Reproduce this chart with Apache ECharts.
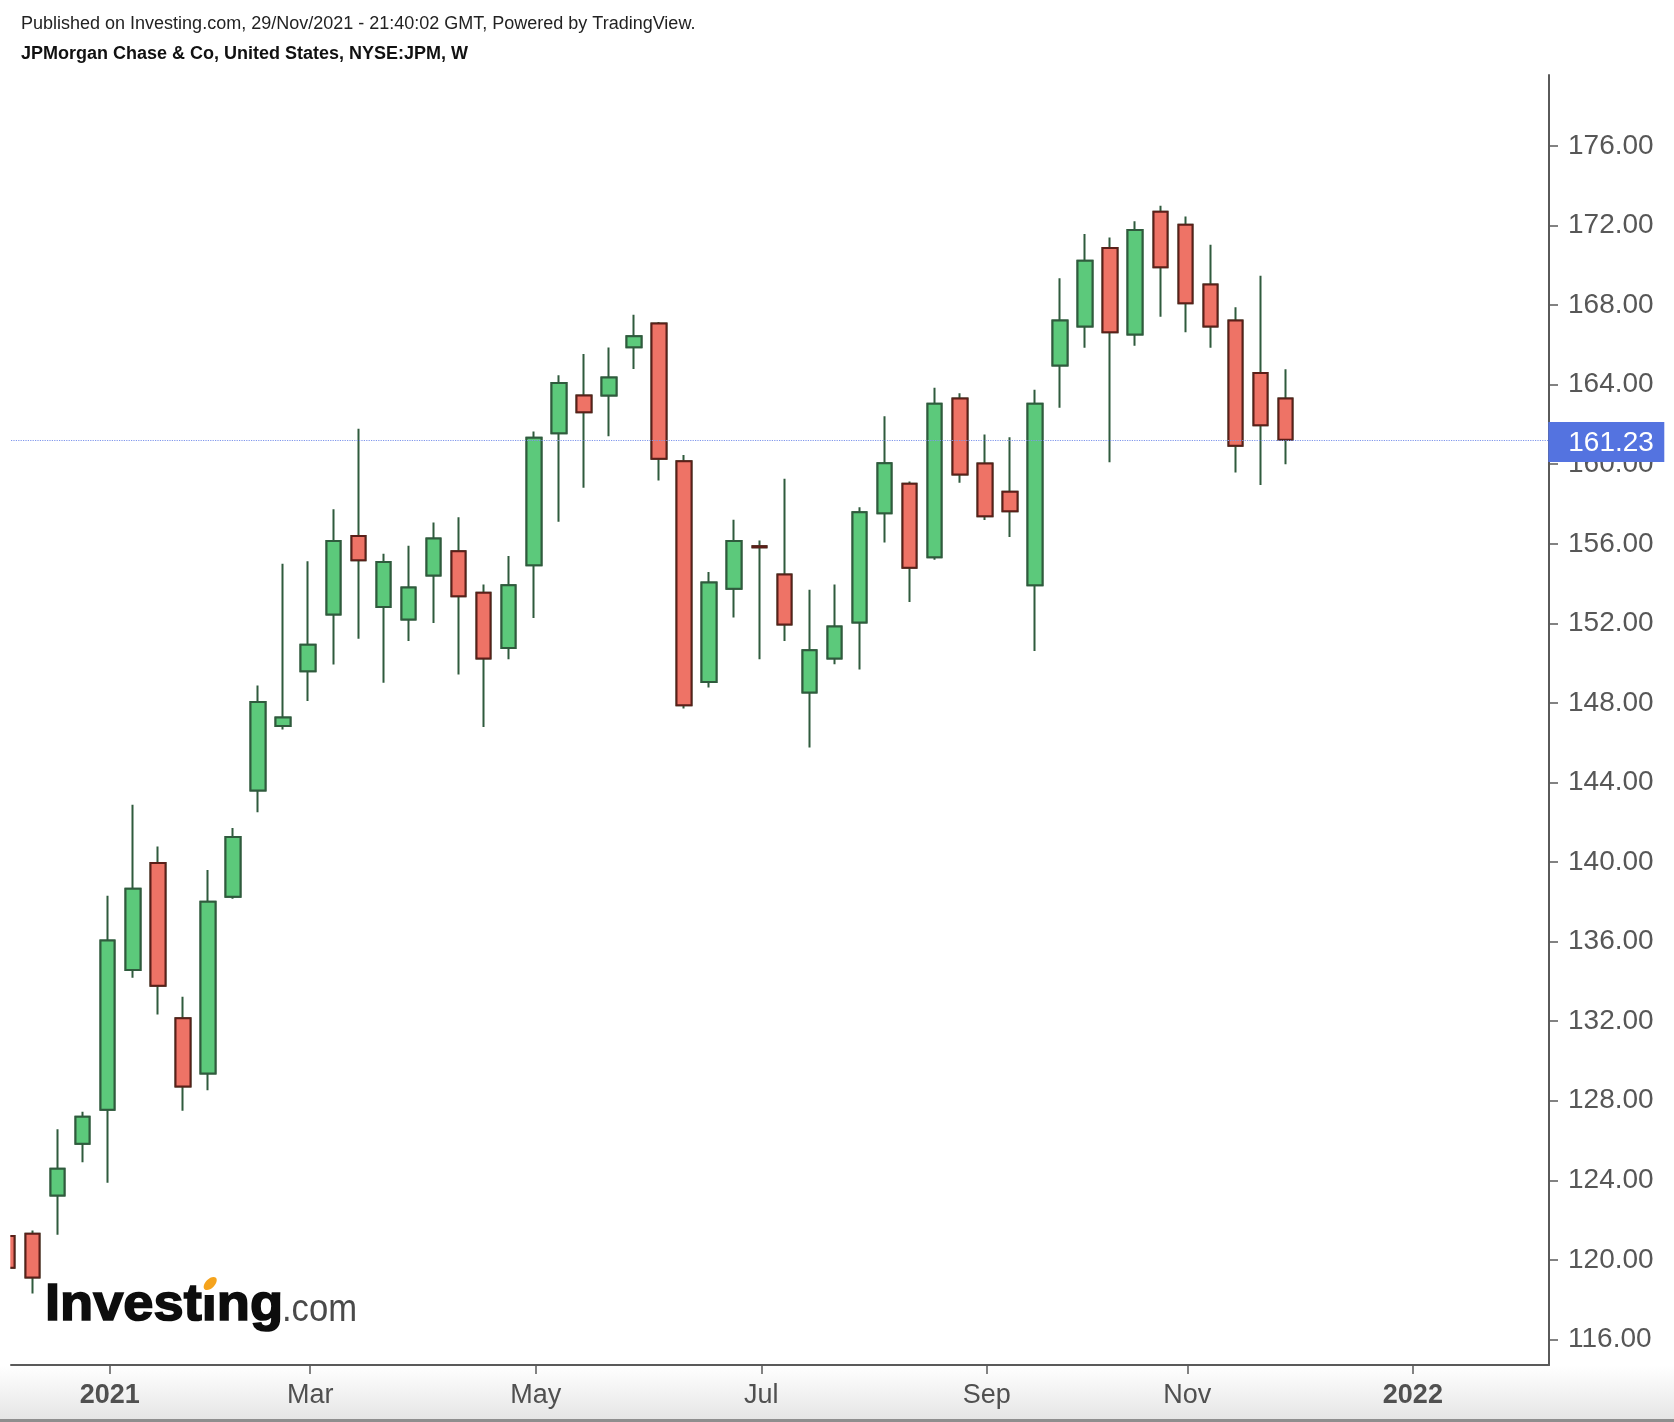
<!DOCTYPE html>
<html><head><meta charset="utf-8">
<script src="https://cdn.jsdelivr.net/npm/echarts@6/dist/echarts.min.js"></script>
<style>html,body{margin:0;padding:0;background:#fff}#c{width:1674px;height:1422px}</style>
</head><body><div id="c"></div>
<script>
// ---- data (weekly bars, JPM) ----
const weeks = ['2020-12-07','2020-12-14','2020-12-21','2020-12-28',
'2021-01-04','2021-01-11','2021-01-18','2021-01-25',
'2021-02-01','2021-02-08','2021-02-15','2021-02-22',
'2021-03-01','2021-03-08','2021-03-15','2021-03-22','2021-03-29',
'2021-04-05','2021-04-12','2021-04-19','2021-04-26',
'2021-05-03','2021-05-10','2021-05-17','2021-05-24','2021-05-31',
'2021-06-07','2021-06-14','2021-06-21','2021-06-28',
'2021-07-05','2021-07-12','2021-07-19','2021-07-26',
'2021-08-02','2021-08-09','2021-08-16','2021-08-23','2021-08-30',
'2021-09-06','2021-09-13','2021-09-20','2021-09-27',
'2021-10-04','2021-10-11','2021-10-18','2021-10-25',
'2021-11-01','2021-11-08','2021-11-15','2021-11-22','2021-11-29'];
const openP  = [121.2,121.31,123.24,125.84,127.54,134.57,139.95,132.15,129.37,138.25,143.6,146.84,149.59,152.44,156.39,152.82,152.19,154.41,155.62,153.54,150.76,154.92,161.56,163.45,163.45,165.88,167.08,160.15,149.05,153.74,155.88,154.45,148.52,150.23,152.04,157.54,159.02,155.32,163.3,160.04,158.62,153.91,164.96,166.92,170.87,166.52,172.69,172.04,169.03,167.22,164.59,163.3];
const closeP = [119.6,119.11,124.58,127.19,136.06,138.66,133.78,128.71,138.0,141.26,148.05,147.27,150.93,156.14,155.17,155.08,153.8,156.26,153.36,150.23,153.91,161.33,164.09,162.61,164.36,166.43,160.27,147.88,154.05,156.14,155.82,151.94,150.65,151.84,157.58,160.05,154.8,163.04,159.49,157.39,157.64,163.04,167.22,170.23,166.63,171.78,169.9,168.09,166.92,160.93,161.96,161.23];
const lowP   = [119.3,118.31,121.26,124.91,123.87,134.18,132.33,127.49,128.53,138.15,142.5,146.66,148.1,149.93,151.23,149.02,151.11,152.02,149.43,146.79,150.19,152.27,157.11,158.82,161.41,164.79,159.18,147.72,148.77,152.29,150.19,151.11,145.76,149.94,149.68,156.06,153.07,155.2,159.07,157.2,156.34,150.61,162.84,165.85,160.1,165.96,167.42,166.63,165.85,159.59,158.95,160.0];
const highP  = [121.5,121.47,126.56,127.45,138.31,142.88,140.78,133.23,139.6,141.71,148.87,155.0,155.12,157.74,161.78,155.5,155.9,157.07,157.34,153.95,155.38,161.65,164.47,165.54,165.87,167.51,167.15,160.47,154.58,157.21,156.17,159.27,153.69,153.95,157.84,162.41,159.13,163.84,163.57,161.49,161.36,163.74,169.35,171.57,171.4,172.21,173.0,172.46,171.04,167.89,169.47,164.78];
const yTicks = [116,120,124,128,132,136,140,144,148,152,156,160,164,168,172,176];
const xTickWeekIdx = [4,12,21,30,39,47,56];           // weeks from 2020-12-07
const xTickLabels  = ['2021','Mar','May','Jul','Sep','Nov','2022'];
const xTickBold    = [true,false,false,false,false,false,true];
const lastPrice = closeP[closeP.length - 1];
const titleLine1 = 'Published on Investing.com, 29/Nov/2021 - 21:40:02 GMT, Powered by TradingView.';
const titleLine2 = 'JPMorgan Chase & Co, United States, NYSE:JPM, W';

// ---- styling ----
const FONT = '"Liberation Sans", Arial, sans-serif';
const UP = '#5cc97b', DOWN = '#ee7366', UPB = '#2f5b3d', DOWNB = '#5b1f19';
const TICK_OFF = 0.08;

const fullRows = weeks.map((d, i) => [i, openP[i], closeP[i], lowP[i], highP[i]]);
const bodyRows = weeks.map((d, i) => [i, openP[i], closeP[i], Math.min(openP[i], closeP[i]), Math.max(openP[i], closeP[i])]);
const xTickVals = xTickWeekIdx.map(v => v + TICK_OFF);

// logo measurement
const mctx = document.createElement('canvas').getContext('2d');
mctx.font = 'bold 52px "Liberation Sans"';
const wInv = mctx.measureText('Investing').width;
const wInvest = mctx.measureText('Invest').width;
const wi = mctx.measureText('i').width;
const sxInv = 238 / wInv;
mctx.font = '38px "Liberation Sans"';
const wCom = mctx.measureText('.com').width;
const sxCom = 75 / wCom;
const iCx = 45 + sxInv * (wInvest + wi / 2);
const LOGO_BASE = 1323.5;

const chart = echarts.init(document.getElementById('c'), null, {renderer: 'canvas'});
const baseGraphics = [
  {type: 'rect', silent: true, z: -10, shape: {x: 0, y: 1366, width: 1674, height: 56},
    style: {fill: new echarts.graphic.LinearGradient(0, 0, 0, 1, [{offset: 0, color: '#ffffff'}, {offset: 1, color: '#e4e4e4'}])}},
  {type: 'rect', silent: true, z: -9, shape: {x: 0, y: 1419, width: 1674, height: 3}, style: {fill: '#8e8e8e'}},
  {type: 'rect', silent: true, z: 100, shape: {x: 0, y: 70, width: 10.3, height: 1294}, style: {fill: '#ffffff'}},
  {type: 'text', silent: true, z: 100, x: 21, y: 24,
    style: {text: titleLine1, font: '18px ' + FONT, fill: '#222222', verticalAlign: 'middle'}},
  {type: 'text', silent: true, z: 100, x: 21, y: 54,
    style: {text: titleLine2, font: 'bold 18px ' + FONT, fill: '#111111', verticalAlign: 'middle'}},
  {type: 'text', silent: true, z: 100, x: 45, y: LOGO_BASE - 18, scaleX: sxInv,
    style: {text: 'Investing', font: 'bold 52px "Liberation Sans"', fill: '#0d0d0d',
      stroke: '#0d0d0d', lineWidth: 1.6, verticalAlign: 'middle'}},
  {type: 'text', silent: true, z: 100, x: 282, y: LOGO_BASE - 13.2, scaleX: sxCom,
    style: {text: '.com', font: '38px "Liberation Sans"', fill: '#4a4a4a', verticalAlign: 'middle'}},
  {type: 'rect', silent: true, z: 101, shape: {x: iCx - 6.5, y: LOGO_BASE - 43, width: 13, height: 14.5}, style: {fill: '#ffffff'}},
  {type: 'ellipse', silent: true, z: 102, x: iCx + 1, y: LOGO_BASE - 40, rotation: Math.PI / 4,
    shape: {cx: 0, cy: 0, rx: 8, ry: 4.6}, style: {fill: '#f5a31c'}}
];

chart.setOption({
  animation: false,
  backgroundColor: '#ffffff',
  grid: {left: 11, right: 125, top: 75, bottom: 57, containLabel: false},
  xAxis: {
    type: 'value', min: 0.1397, max: 61.512, position: 'bottom',
    splitLine: {show: false},
    axisLine: {show: true, onZero: false, lineStyle: {color: '#5a5a5a', width: 2}},
    axisTick: {show: true, customValues: xTickVals, length: 9, lineStyle: {color: '#5a5a5a', width: 1.5}},
    axisLabel: {
      customValues: xTickVals, margin: 17,
      formatter: v => {
        const k = xTickVals.findIndex(t => Math.abs(t - v) < 0.01);
        if (k < 0) return '';
        return (xTickBold[k] ? '{b|' : '{n|') + xTickLabels[k] + '}';
      },
      rich: {
        b: {fontFamily: FONT, fontSize: 27, fontWeight: 'bold', color: '#505050'},
        n: {fontFamily: FONT, fontSize: 27, color: '#505050'}
      }
    }
  },
  yAxis: {
    type: 'value', min: 114.713, max: 179.569, position: 'right',
    splitLine: {show: false},
    axisLine: {show: true, onZero: false, lineStyle: {color: '#5a5a5a', width: 2}},
    axisTick: {show: true, customValues: yTicks, length: 9, lineStyle: {color: '#5a5a5a', width: 1.5}},
    axisLabel: {customValues: yTicks, margin: 19, formatter: v => v.toFixed(2),
      fontFamily: FONT, fontSize: 28, color: '#575757', padding: [4, 0, 0, 0]}
  },
  series: [
    {
      name: 'wicks', type: 'candlestick', data: fullRows,
      encode: {x: 0, y: [1, 2, 3, 4]},
      barWidth: 15, silent: true,
      itemStyle: {color: UP, color0: DOWN, borderColor: UPB, borderColor0: UPB, borderWidth: 2}
    },
    {
      name: 'bodies', type: 'candlestick', data: bodyRows,
      encode: {x: 0, y: [1, 2, 3, 4]},
      barWidth: 15, silent: true,
      itemStyle: {color: UP, color0: DOWN, borderColor: UPB, borderColor0: DOWNB, borderWidth: 2},
      markLine: {
        silent: true, symbol: ['none', 'none'],
        lineStyle: {color: '#7f96ec', type: 'dotted', width: 1.2},
        label: {show: false},
        data: [{yAxis: lastPrice}]
      }
    }
  ],
  graphic: baseGraphics
});

// last-price tag on the price scale, positioned through the axis scale
const lineY = chart.convertToPixel({yAxisIndex: 0}, lastPrice);
const gridRight = chart.convertToPixel({xAxisIndex: 0}, 61.512);
chart.setOption({
  graphic: baseGraphics.concat([
    {type: 'rect', silent: true, z: 120, shape: {x: gridRight - 0.7, y: lineY + 2.3 - 20, width: 116, height: 40},
      style: {fill: '#5473e0'}},
    {type: 'text', silent: true, z: 121, x: gridRight + 19.3, y: lineY + 3.6,
      style: {text: lastPrice.toFixed(2), font: '28px ' + FONT, fill: '#ffffff', verticalAlign: 'middle'}}
  ])
}, {replaceMerge: ['graphic']});
</script>
</body></html>
